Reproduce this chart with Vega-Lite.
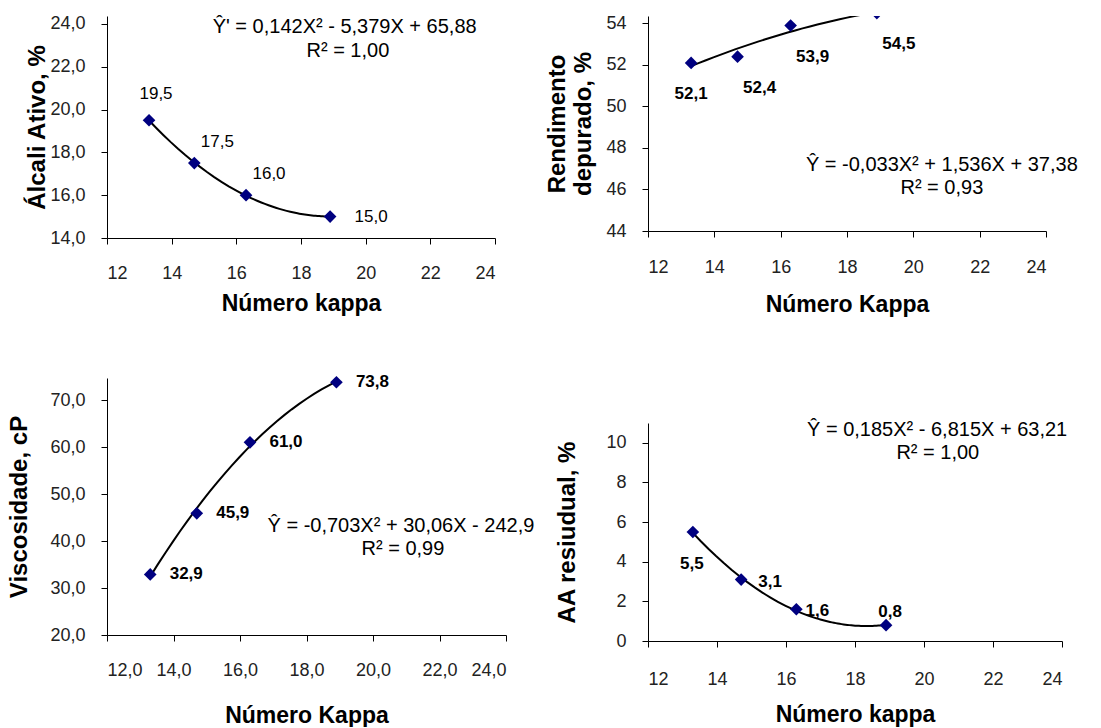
{
  "$schema": "https://vega.github.io/schema/vega-lite/v6.json",
  "padding": {"left": 7, "top": 14, "right": 0, "bottom": 0},
  "background": "white",
  "datasets": {
    "p1": [{"k": 13.3, "v": 19.5}, {"k": 14.7, "v": 17.5}, {"k": 16.3, "v": 16.0}, {"k": 18.9, "v": 15.0}],
    "p2": [{"k": 13.3, "v": 52.1}, {"k": 14.7, "v": 52.4}, {"k": 16.3, "v": 53.9}, {"k": 18.9, "v": 54.5}],
    "p3": [{"k": 13.3, "v": 32.9}, {"k": 14.7, "v": 45.9}, {"k": 16.3, "v": 61.0}, {"k": 18.9, "v": 73.8}],
    "p4": [{"k": 13.3, "v": 5.5}, {"k": 14.7, "v": 3.1}, {"k": 16.3, "v": 1.6}, {"k": 18.9, "v": 0.8}],
    "e1": [{"k": 19.35, "v": 23.86, "t": "Ŷ' = 0,142X² - 5,379X + 65,88"}, {"k": 19.45, "v": 22.74, "t": "R² = 1,00"}],
    "e2": [{"k": 20.86, "v": 47.19, "t": "Ŷ = -0,033X² + 1,536X + 37,38"}, {"k": 20.86, "v": 46.08, "t": "R² = 0,93"}],
    "e3": [{"k": 20.84, "v": 43.2, "t": "Ŷ = -0,703X² + 30,06X - 242,9"}, {"k": 20.9, "v": 38.3, "t": "R² = 0,99"}],
    "e4": [{"k": 20.38, "v": 10.66, "t": "Ŷ = 0,185X² - 6,815X + 63,21"}, {"k": 20.4, "v": 9.49, "t": "R² = 1,00"}]
  },
  "config": {
    "locale": {"number": {"decimal": ",", "thousands": ".", "grouping": [3], "currency": ["", ""]}},
    "view": {"stroke": null},
    "axis": {
      "grid": false, "domainColor": "#000", "tickColor": "#000", "tickSize": 6,
      "labelFont": "Liberation Sans", "labelFontSize": 18, "labelColor": "#222",
      "titleFont": "Liberation Sans", "titleFontWeight": "bold", "titleColor": "#000"
    },
    "axisX": {"titleFontSize": 23},
    "axisY": {"titleFontSize": 24},
    "text": {"font": "Liberation Sans", "color": "#000"}
  },
  "hconcat": [
    {
      "spacing": 58,
      "vconcat": [
        {
          "width": 388, "height": 222,
          "encoding": {
            "x": {"field": "k", "type": "quantitative", "scale": {"domain": [12, 24], "nice": false, "zero": false},
                  "axis": {"values": [12, 14, 16, 18, 20, 22, 24], "format": "d", "title": "Número kappa", "titlePadding": 10, "labelPadding": 20}},
            "y": {"field": "v", "type": "quantitative", "scale": {"domain": [14, 24.37], "nice": false, "zero": false},
                  "axis": {"values": [14, 16, 18, 20, 22, 24], "format": ".1f", "title": "Álcali Ativo, %", "titlePadding": 0, "labelPadding": 16}}
          },
          "layer": [
            {"data": {"name": "p1"}, "transform": [{"regression": "v", "on": "k", "method": "poly", "order": 2, "extent": [13.3, 18.9]}],
             "mark": {"type": "line", "color": "#000", "strokeWidth": 2}},
            {"data": {"name": "p1"}, "mark": {"type": "point", "shape": "diamond", "filled": true, "size": 160, "color": "#000080", "opacity": 1}},
            {"data": {"name": "p1"}, "transform": [{"filter": "datum.k < 14"}],
             "mark": {"type": "text", "dx": 7, "dy": -26, "fontSize": 17, "baseline": "middle"},
             "encoding": {"text": {"field": "v", "type": "quantitative", "format": ".1f"}}},
            {"data": {"name": "p1"}, "transform": [{"filter": "datum.k > 14 && datum.k < 18"}],
             "mark": {"type": "text", "dx": 23, "dy": -21, "fontSize": 17, "baseline": "middle"},
             "encoding": {"text": {"field": "v", "type": "quantitative", "format": ".1f"}}},
            {"data": {"name": "p1"}, "transform": [{"filter": "datum.k > 18"}],
             "mark": {"type": "text", "dx": 41, "dy": 0, "fontSize": 17, "baseline": "middle"},
             "encoding": {"text": {"field": "v", "type": "quantitative", "format": ".1f"}}},
            {"data": {"name": "e1"}, "mark": {"type": "text", "fontSize": 20, "baseline": "middle"},
             "encoding": {"text": {"field": "t", "type": "nominal"}}}
          ]
        },
        {
          "width": 399, "height": 257,
          "encoding": {
            "x": {"field": "k", "type": "quantitative", "scale": {"domain": [12, 24], "nice": false, "zero": false},
                  "axis": {"values": [12, 14, 16, 18, 20, 22, 24], "format": ".1f", "title": "Número Kappa", "titlePadding": 25, "labelPadding": 20}},
            "y": {"field": "v", "type": "quantitative", "scale": {"domain": [20, 74.7], "nice": false, "zero": false},
                  "axis": {"values": [20, 30, 40, 50, 60, 70], "format": ".1f", "title": "Viscosidade, cP", "titlePadding": 18, "labelPadding": 16}}
          },
          "layer": [
            {"data": {"name": "p3"}, "transform": [{"regression": "v", "on": "k", "method": "poly", "order": 2, "extent": [13.3, 18.9]}],
             "mark": {"type": "line", "color": "#000", "strokeWidth": 2}},
            {"data": {"name": "p3"}, "mark": {"type": "point", "shape": "diamond", "filled": true, "size": 160, "color": "#000080", "opacity": 1}},
            {"data": {"name": "p3"},
             "mark": {"type": "text", "dx": 36, "dy": 0, "fontSize": 17, "fontWeight": "bold", "baseline": "middle"},
             "encoding": {"text": {"field": "v", "type": "quantitative", "format": ".1f"}}},
            {"data": {"name": "e3"}, "mark": {"type": "text", "fontSize": 20, "baseline": "middle"},
             "encoding": {"text": {"field": "t", "type": "nominal"}}}
          ]
        }
      ]
    },
    {
      "spacing": 103,
      "vconcat": [
        {
          "width": 398, "height": 215,
          "encoding": {
            "x": {"field": "k", "type": "quantitative", "scale": {"domain": [12, 24], "nice": false, "zero": false},
                  "axis": {"values": [12, 14, 16, 18, 20, 22, 24], "format": "d", "title": "Número Kappa", "titlePadding": 17, "labelPadding": 21}},
            "y": {"field": "v", "type": "quantitative", "scale": {"domain": [44, 54.36], "nice": false, "zero": false},
                  "axis": {"values": [44, 46, 48, 50, 52, 54], "format": "d", "title": ["Rendimento", "depurado, %"], "titlePadding": 10, "labelPadding": 16}}
          },
          "layer": [
            {"data": {"name": "p2"}, "transform": [{"regression": "v", "on": "k", "method": "poly", "order": 2, "extent": [13.3, 18.9]}],
             "mark": {"type": "line", "color": "#000", "strokeWidth": 2, "clip": true}},
            {"data": {"name": "p2"}, "mark": {"type": "point", "shape": "diamond", "filled": true, "size": 160, "color": "#000080", "opacity": 1, "clip": true}},
            {"data": {"name": "p2"}, "transform": [{"filter": "datum.k < 14"}],
             "mark": {"type": "text", "dx": 0, "dy": 31, "fontSize": 17, "fontWeight": "bold", "baseline": "middle"},
             "encoding": {"text": {"field": "v", "type": "quantitative", "format": ".1f"}}},
            {"data": {"name": "p2"}, "transform": [{"filter": "datum.k > 14"}],
             "mark": {"type": "text", "dx": 22, "dy": 31, "fontSize": 17, "fontWeight": "bold", "baseline": "middle"},
             "encoding": {"text": {"field": "v", "type": "quantitative", "format": ".1f"}}},
            {"data": {"name": "e2"}, "mark": {"type": "text", "fontSize": 20, "baseline": "middle"},
             "encoding": {"text": {"field": "t", "type": "nominal"}}}
          ]
        },
        {
          "width": 414, "height": 218,
          "encoding": {
            "x": {"field": "k", "type": "quantitative", "scale": {"domain": [12, 24], "nice": false, "zero": false},
                  "axis": {"values": [12, 14, 16, 18, 20, 22, 24], "format": "d", "title": "Número kappa", "titlePadding": 15, "labelPadding": 23}},
            "y": {"field": "v", "type": "quantitative", "scale": {"domain": [0, 11], "nice": false, "zero": false},
                  "axis": {"values": [0, 2, 4, 6, 8, 10], "format": "d", "title": "AA resiudual, %", "titlePadding": 26, "labelPadding": 16}}
          },
          "layer": [
            {"data": {"name": "p4"}, "transform": [{"regression": "v", "on": "k", "method": "poly", "order": 2, "extent": [13.3, 18.9]}],
             "mark": {"type": "line", "color": "#000", "strokeWidth": 2}},
            {"data": {"name": "p4"}, "mark": {"type": "point", "shape": "diamond", "filled": true, "size": 160, "color": "#000080", "opacity": 1}},
            {"data": {"name": "p4"}, "transform": [{"filter": "datum.k < 14"}],
             "mark": {"type": "text", "dx": -1, "dy": 32, "fontSize": 17, "fontWeight": "bold", "baseline": "middle"},
             "encoding": {"text": {"field": "v", "type": "quantitative", "format": ".1f"}}},
            {"data": {"name": "p4"}, "transform": [{"filter": "datum.k > 14 && datum.k < 15"}],
             "mark": {"type": "text", "dx": 29, "dy": 2, "fontSize": 17, "fontWeight": "bold", "baseline": "middle"},
             "encoding": {"text": {"field": "v", "type": "quantitative", "format": ".1f"}}},
            {"data": {"name": "p4"}, "transform": [{"filter": "datum.k > 16 && datum.k < 17"}],
             "mark": {"type": "text", "dx": 21, "dy": 2, "fontSize": 17, "fontWeight": "bold", "baseline": "middle"},
             "encoding": {"text": {"field": "v", "type": "quantitative", "format": ".1f"}}},
            {"data": {"name": "p4"}, "transform": [{"filter": "datum.k > 18"}],
             "mark": {"type": "text", "dx": 4, "dy": -13, "fontSize": 17, "fontWeight": "bold", "baseline": "middle"},
             "encoding": {"text": {"field": "v", "type": "quantitative", "format": ".1f"}}},
            {"data": {"name": "e4"}, "mark": {"type": "text", "fontSize": 20, "baseline": "middle"},
             "encoding": {"text": {"field": "t", "type": "nominal"}}}
          ]
        }
      ]
    }
  ],
  "spacing": 10
}
